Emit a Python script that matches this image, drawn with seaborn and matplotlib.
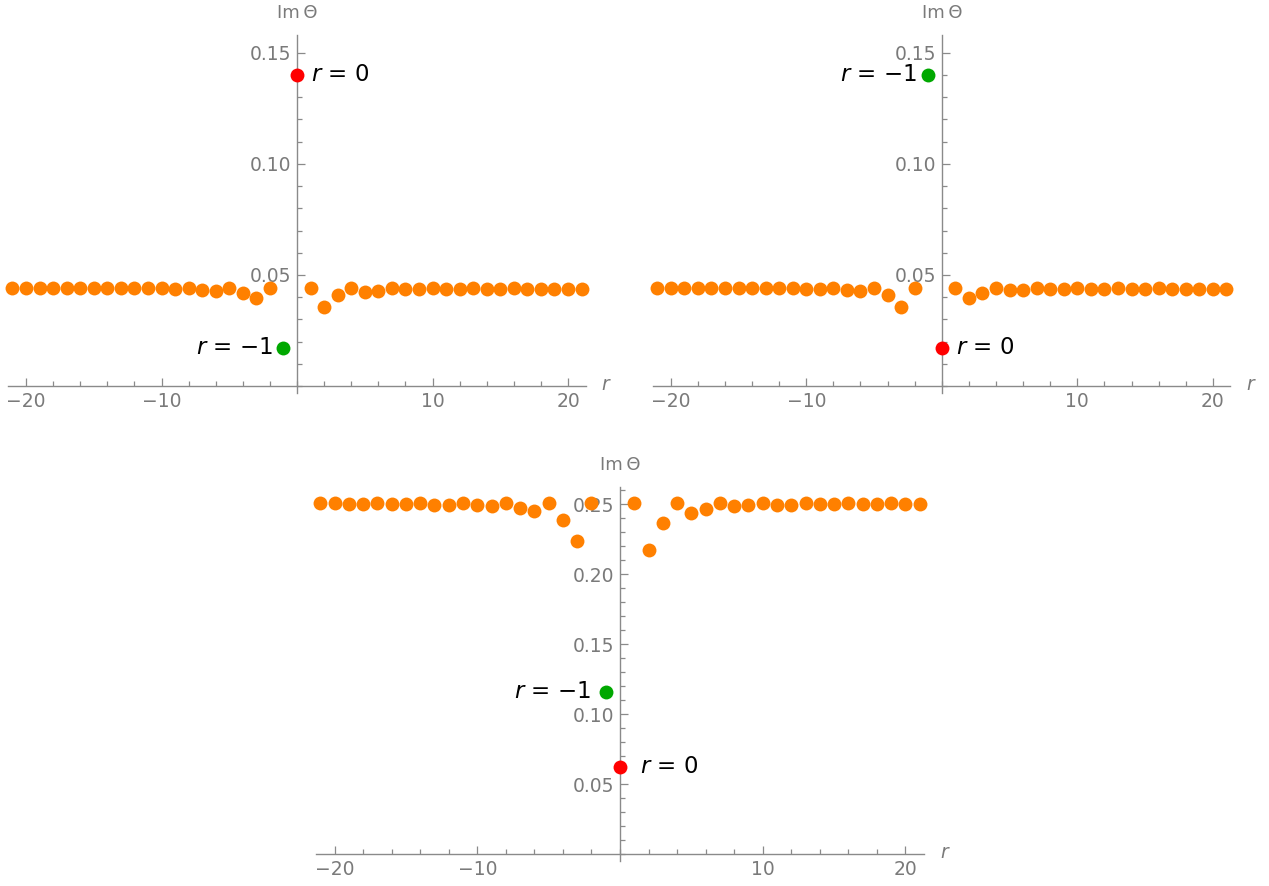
import matplotlib
matplotlib.use("Agg")
import matplotlib.pyplot as plt
import matplotlib.ticker as mticker
import seaborn as sns

# r values of the orange points (r = -1 and r = 0 are highlighted separately)
r_vals = list(range(-21, -1)) + list(range(1, 22))

# Im Theta, top-left panel
im_top_left = [0.0440, 0.0440, 0.0440, 0.0440, 0.0441, 0.0440, 0.0440, 0.0441, 0.0440, 0.0440,
               0.0441, 0.0440, 0.0438, 0.0441, 0.0434, 0.0429, 0.0440, 0.0420, 0.0398, 0.0440,
               0.0440, 0.0357, 0.0410, 0.0440, 0.0425, 0.0429, 0.0440, 0.0435, 0.0435, 0.0440,
               0.0437, 0.0437, 0.0440, 0.0437, 0.0437, 0.0440, 0.0437, 0.0437, 0.0438, 0.0437, 0.0438]

# Im Theta, top-right panel
im_top_right = [0.0440, 0.0440, 0.0440, 0.0440, 0.0440, 0.0440, 0.0440, 0.0441, 0.0440, 0.0440,
                0.0440, 0.0438, 0.0438, 0.0441, 0.0434, 0.0429, 0.0440, 0.0411, 0.0357, 0.0440,
                0.0440, 0.0398, 0.0420, 0.0443, 0.0431, 0.0434, 0.0440, 0.0437, 0.0437, 0.0440,
                0.0438, 0.0438, 0.0440, 0.0438, 0.0438, 0.0440, 0.0438, 0.0438, 0.0438, 0.0438, 0.0438]

# Im Theta, bottom panel
im_bottom = [0.2507, 0.2512, 0.2505, 0.2505, 0.2512, 0.2505, 0.2505, 0.2512, 0.2498, 0.2498,
             0.2510, 0.2493, 0.2486, 0.2510, 0.2471, 0.2452, 0.2510, 0.2390, 0.2240, 0.2510,
             0.2510, 0.2174, 0.2369, 0.2510, 0.2440, 0.2464, 0.2507, 0.2486, 0.2495, 0.2510,
             0.2498, 0.2498, 0.2510, 0.2502, 0.2502, 0.2510, 0.2505, 0.2505, 0.2510, 0.2505, 0.2505]

# highlighted points: (r, Im Theta)
red_pts = [(0, 0.1401), (0, 0.0173), (0, 0.0624)]
green_pts = [(-1, 0.0173), (-1, 0.1401), (-1, 0.1159)]

ORANGE = "#ff8000"
RED = "#ff0000"
GREEN = "#00a800"
GRAY = "#8a8a8a"
TXT = "#7a7a7a"

sns.set_style("white")
plt.rcParams["font.family"] = ["DejaVu Sans"]
plt.rcParams["mathtext.fontset"] = "dejavusans"

fig = plt.figure(figsize=(12.69, 8.86), dpi=100)
ax1 = fig.add_axes([0.0066, 0.5564, 0.4549, 0.4041])
ax2 = fig.add_axes([0.5147, 0.5564, 0.4549, 0.4041])
ax3 = fig.add_axes([0.2490, 0.0282, 0.4791, 0.4221])


def style_axes(ax, ylim, ymajor):
    ax.set_xlim(-21.3, 21.3)
    ax.set_ylim(*ylim)
    for s in ["top", "right"]:
        ax.spines[s].set_visible(False)
    ax.spines["left"].set_position(("data", 0))
    ax.spines["bottom"].set_position(("data", 0))
    for s in ["left", "bottom"]:
        ax.spines[s].set_color(GRAY)
        ax.spines[s].set_linewidth(1.0)
    ax.xaxis.set_major_locator(mticker.FixedLocator([-20, -10, 10, 20]))
    ax.xaxis.set_minor_locator(mticker.MultipleLocator(2))
    ax.yaxis.set_major_locator(mticker.FixedLocator(ymajor))
    ax.yaxis.set_minor_locator(mticker.MultipleLocator(0.01))
    ax.yaxis.set_major_formatter(mticker.FormatStrFormatter("%.2f"))
    ax.tick_params(which="both", direction="in", color=GRAY, labelcolor=TXT,
                   labelsize=13.5, width=0.9, bottom=True, left=True)
    ax.tick_params(which="major", length=6, pad=4)
    ax.tick_params(which="minor", length=3.5)
    ax.set_xlabel("")
    ax.set_ylabel("")
    ax.annotate("Im\u2009\u0398", xy=(0, 1), xycoords=("data", "axes fraction"),
                xytext=(0, 22), textcoords="offset pixels", ha="center", va="center",
                color=TXT, fontsize=13, annotation_clip=False)
    ax.annotate("r", xy=(1, 0), xycoords=("axes fraction", "data"),
                xytext=(20, 2), textcoords="offset pixels", ha="center", va="center",
                color=TXT, fontsize=13.5, style="italic", annotation_clip=False)


def draw_panel(ax, vals, red, green, ylim, ymajor, red_dx, green_dx):
    sns.scatterplot(x=r_vals, y=vals, ax=ax, color=ORANGE, s=100, linewidth=0,
                    clip_on=False, zorder=3)
    sns.scatterplot(x=[red[0]], y=[red[1]], ax=ax, color=RED, s=100, linewidth=0,
                    clip_on=False, zorder=4)
    sns.scatterplot(x=[green[0]], y=[green[1]], ax=ax, color=GREEN, s=100, linewidth=0,
                    clip_on=False, zorder=4)
    ax.annotate("$r$ = 0", xy=red, xytext=(red_dx, 0), textcoords="offset pixels",
                ha="left", va="center", fontsize=16.5, color="black")
    ax.annotate("$r$ = \u22121", xy=green, xytext=(green_dx, 0), textcoords="offset pixels",
                ha="right", va="center", fontsize=16.5, color="black")
    style_axes(ax, ylim, ymajor)


draw_panel(ax1, im_top_left, red_pts[0], green_pts[0], (-0.00315, 0.158),
           [0.05, 0.10, 0.15], 14, -11)
draw_panel(ax2, im_top_right, red_pts[1], green_pts[1], (-0.00315, 0.158),
           [0.05, 0.10, 0.15], 14, -11)
draw_panel(ax3, im_bottom, red_pts[2], green_pts[2], (-0.005, 0.2624),
           [0.05, 0.10, 0.15, 0.20, 0.25], 20, -15)

fig.savefig("out.png", dpi=100)
